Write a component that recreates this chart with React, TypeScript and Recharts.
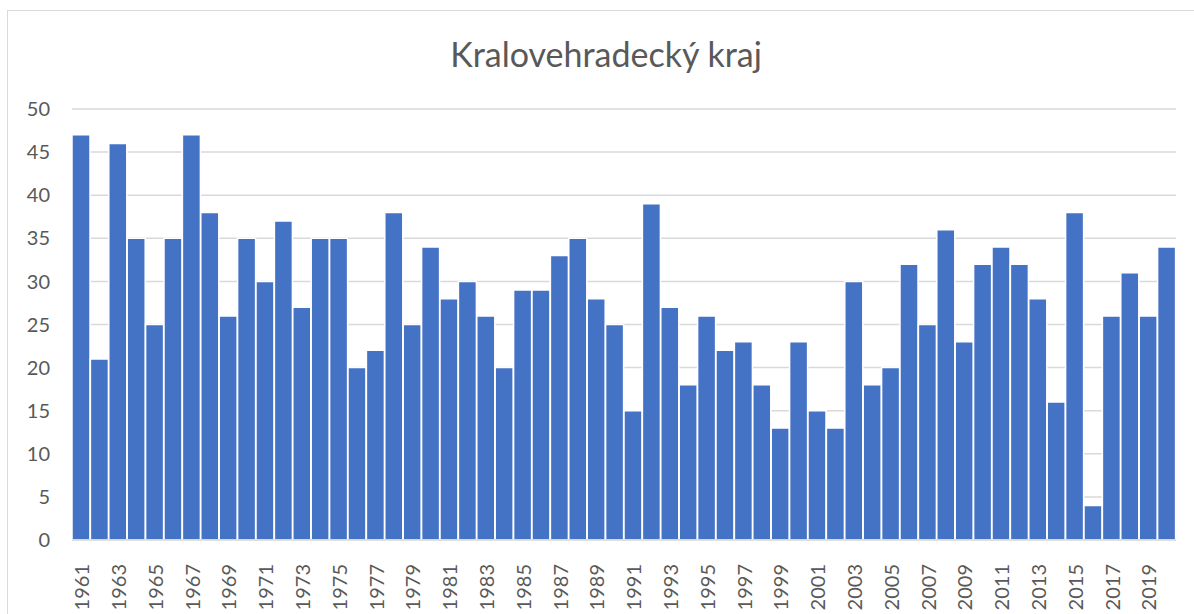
import { BarChart, Bar, XAxis, YAxis, CartesianGrid } from "recharts";

const years = [
  "1961", "1962", "1963", "1964", "1965", "1966", "1967", "1968", "1969", "1970",
  "1971", "1972", "1973", "1974", "1975", "1976", "1977", "1978", "1979", "1980",
  "1981", "1982", "1983", "1984", "1985", "1986", "1987", "1988", "1989", "1990",
  "1991", "1992", "1993", "1994", "1995", "1996", "1997", "1998", "1999", "2000",
  "2001", "2002", "2003", "2004", "2005", "2006", "2007", "2008", "2009", "2010",
  "2011", "2012", "2013", "2014", "2015", "2016", "2017", "2018", "2019", "2020",
];

const values = [
  47, 21, 46, 35, 25, 35, 47, 38, 26, 35,
  30, 37, 27, 35, 35, 20, 22, 38, 25, 34,
  28, 30, 26, 20, 29, 29, 33, 35, 28, 25,
  15, 39, 27, 18, 26, 22, 23, 18, 13, 23,
  15, 13, 30, 18, 20, 32, 25, 36, 23, 32,
  34, 32, 28, 16, 38, 4, 26, 31, 26, 34,
];

const yTicks = [0, 5, 10, 15, 20, 25, 30, 35, 40, 45, 50];

const title = "Kralovehradecký kraj";

const data = years.map((year, i) => ({ year, value: values[i] }));

const FONT = "Lato, 'Open Sans', sans-serif";
const TEXT = "#595959";

// Excel-style vertical year labels, reading bottom-up
function YearTick({ x, y, payload }: any) {
  return (
    <text
      x={0}
      y={0}
      transform={`translate(${x},${y + 16}) rotate(-90)`}
      textAnchor="end"
      dominantBaseline="central"
      fontSize={20}
      fontFamily={FONT}
      fill={TEXT}
    >
      {payload.value}
    </text>
  );
}

export default function App() {
  return (
    <div style={{ position: "absolute", left: 0, top: 0, width: 1194, height: 614, background: "#fff", overflow: "hidden" }}>
      <div
        style={{
          position: "absolute",
          left: 7,
          top: 10,
          width: 1220,
          height: 640,
          border: "1.5px solid #d9d9d9",
        }}
      />
      <div
        style={{
          position: "absolute",
          left: 0,
          width: 1212,
          top: 33,
          textAlign: "center",
          fontFamily: FONT,
          fontSize: 34,
          color: TEXT,
        }}
      >
        {title}
      </div>
      <div style={{ position: "absolute", left: 0, top: 0 }}>
        <BarChart
          width={1194}
          height={614}
          data={data}
          margin={{ top: 109, right: 18, left: 0, bottom: 4 }}
          barCategoryGap={0}
        >
          <CartesianGrid stroke="#d9d9d9" strokeWidth={1.5} vertical={false} />
          <XAxis
            dataKey="year"
            interval={1}
            height={70}
            tickLine={false}
            axisLine={{ stroke: "#d9d9d9", strokeWidth: 1.5 }}
            tick={<YearTick />}
          />
          <YAxis
            width={72}
            domain={[0, 50]}
            ticks={yTicks}
            tickLine={false}
            axisLine={false}
            tickSize={0}
            tickMargin={22}
            tick={{ fontSize: 20, fill: TEXT, fontFamily: FONT }}
          />
          <Bar dataKey="value" fill="#4472C4" stroke="#ffffff" strokeWidth={1.5} isAnimationActive={false} />
        </BarChart>
      </div>
    </div>
  );
}
